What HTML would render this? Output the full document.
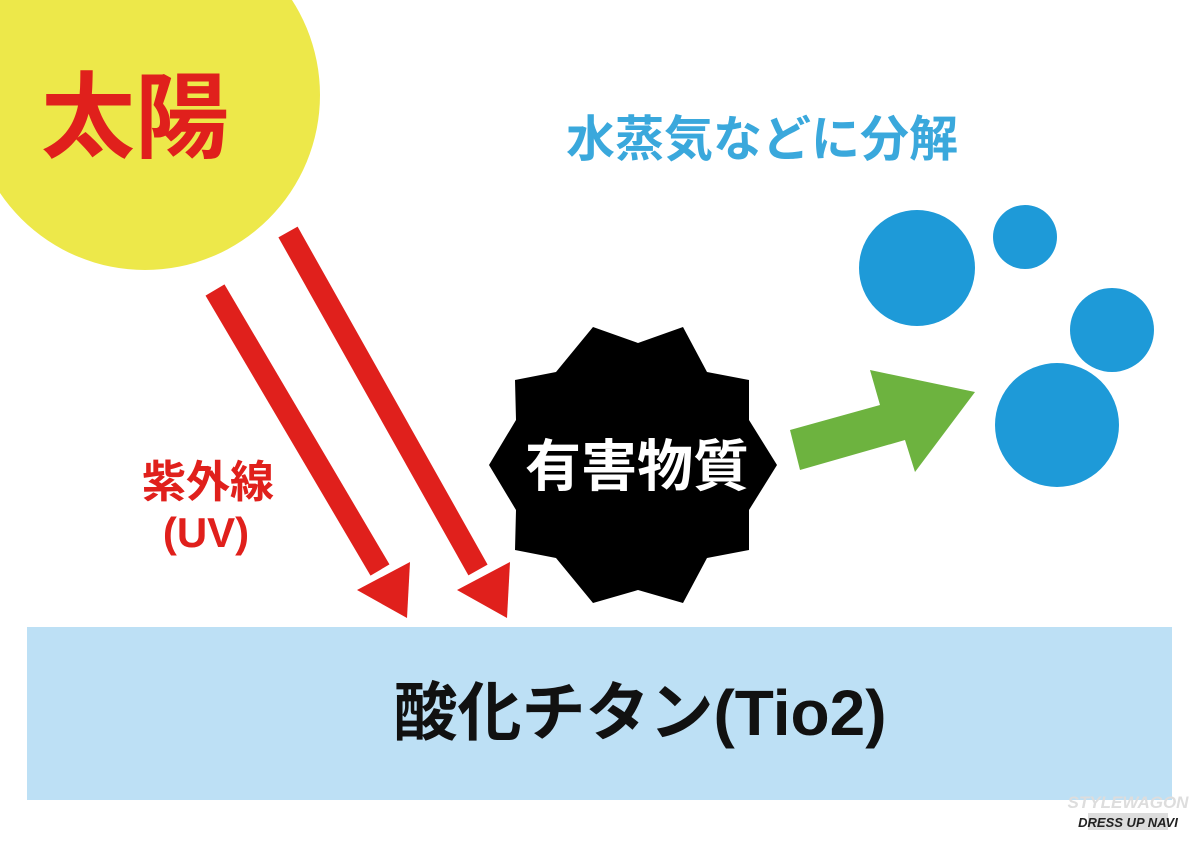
<!DOCTYPE html>
<html><head><meta charset="utf-8"><style>
html,body{margin:0;padding:0;background:#fff;}
svg{display:block}
text{font-family:"Liberation Sans","Noto Sans CJK JP",sans-serif;font-weight:bold}
</style></head><body>
<svg width="1200" height="844" viewBox="0 0 1200 844">
<rect width="1200" height="844" fill="#fff"/>
<circle cx="145" cy="95" r="175" fill="#ede84a"/>
<text x="135" y="150" font-size="94" fill="#e0201c" text-anchor="middle">太陽</text>
<text x="762" y="156" font-size="49" fill="#3aa8dc" text-anchor="middle">水蒸気などに分解</text>
<text x="208" y="497" font-size="44" fill="#e0201c" text-anchor="middle">紫外線</text>
<text x="206" y="547" font-size="42" fill="#e0201c" text-anchor="middle">(UV)</text>
<g stroke="#e0201c" stroke-width="22" stroke-linecap="butt">
<line x1="215" y1="290" x2="380" y2="570"/>
<line x1="288" y1="232" x2="478" y2="570"/>
</g>
<polygon points="357,590 410,562 407,618" fill="#e0201c"/>
<polygon points="457,590 510,562 507,618" fill="#e0201c"/>
<polygon fill="#000" points="
777,465 749,420 749,380 707,372 683,327 638,343 593,327 556,372 515,380 516,420 489,465 516,510 515,550 556,558 593,603 638,590 683,603 707,558 749,550 749,510"/>
<text x="637" y="486" font-size="56" fill="#fff" text-anchor="middle">有害物質</text>
<polygon fill="#6db33f" points="790,430 880,405 870,370 975,392 915,472 905,440 800,470"/>
<g fill="#1e9ad8">
<circle cx="917" cy="268" r="58"/>
<circle cx="1025" cy="237" r="32"/>
<circle cx="1112" cy="330" r="42"/>
<circle cx="1057" cy="425" r="62"/>
</g>
<rect x="27" y="627" width="1145" height="173" fill="#bde0f5"/>
<text x="640" y="735" font-size="64" fill="#111" text-anchor="middle">酸化チタン(Tio2)</text>
<text x="1128" y="808" font-size="17" fill="#ddd" text-anchor="middle" font-style="italic">STYLEWAGON</text>
<rect x="1088" y="813" width="80" height="17" fill="#ddd"/>
<text x="1128" y="827" font-size="13" fill="#222" text-anchor="middle" font-style="italic">DRESS UP NAVI</text>
</svg>
</body></html>
